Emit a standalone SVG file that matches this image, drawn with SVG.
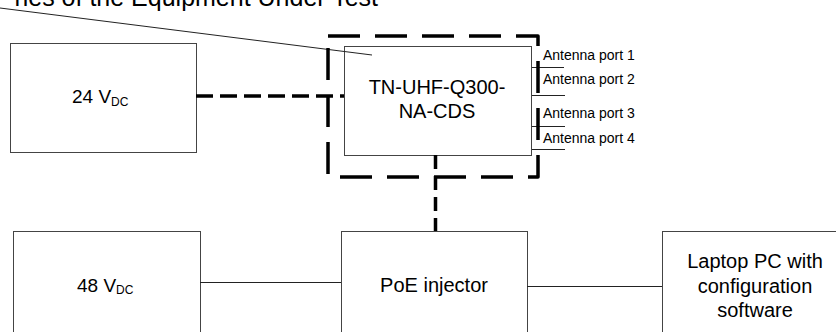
<svg xmlns="http://www.w3.org/2000/svg" width="836" height="332" viewBox="0 0 836 332">
<style>
text{font-family:"Liberation Sans",Arial,sans-serif;fill:#000}
.box{fill:#fff;stroke:#444;stroke-width:1}
.main{font-size:20px;text-anchor:middle}
.sub{font-size:12px}
.port{font-size:14px}
.thin{stroke:#222;stroke-width:1;fill:none}
.dash{stroke:#000;stroke-width:3.5;fill:none;stroke-dasharray:17 7}
.bound{stroke:#000;stroke-width:3.5;fill:none;stroke-dasharray:32 15;stroke-linejoin:round}
</style>
<rect width="836" height="332" fill="#fff"/>
<g id="title">
<text x="378" y="6" font-size="25" text-anchor="end">ries of the Equipment Under Test</text>
</g>
<g id="n24v">
<rect class="box" x="10.5" y="43.5" width="186" height="109"/>
<text x="72" y="103" font-size="19">24 V<tspan class="sub" dy="3">DC</tspan></text>
</g>
<g id="reader">
<rect class="box" x="344.5" y="46.5" width="187" height="109"/>
<text class="main" x="437" y="94">TN-UHF-Q300-</text>
<text class="main" x="437" y="118">NA-CDS</text>
</g>
<g id="ports">
<text class="port" x="543" y="59.5">Antenna port 1</text>
<text class="port" x="543" y="83.5">Antenna port 2</text>
<text class="port" x="543" y="117.5">Antenna port 3</text>
<text class="port" x="543" y="142.5">Antenna port 4</text>
</g>
<g id="n48v">
<rect class="box" x="13.5" y="231.5" width="187" height="120"/>
<text x="77" y="292" font-size="19">48 V<tspan class="sub" dy="2">DC</tspan></text>
</g>
<g id="poe">
<rect class="box" x="341.5" y="231.5" width="186" height="120"/>
<text class="main" x="434" y="292">PoE injector</text>
</g>
<g id="laptop">
<rect class="box" x="662.5" y="231.5" width="190" height="120"/>
<text class="main" x="755" y="268">Laptop PC with</text>
<text class="main" x="755" y="293">configuration</text>
<text class="main" x="755" y="317">software</text>
</g>
<g id="connectors">
<line class="thin" x1="0" y1="8" x2="372" y2="55"/>
<line class="thin" x1="532" y1="67.5" x2="564" y2="67.5"/>
<line class="thin" x1="532" y1="95.5" x2="565" y2="95.5" stroke="#777"/>
<line class="thin" x1="532" y1="126.5" x2="565" y2="126.5"/>
<line class="thin" x1="532" y1="149.5" x2="565" y2="149.5"/>
<line class="thin" x1="200" y1="282.5" x2="341" y2="282.5"/>
<line class="thin" x1="527" y1="286.5" x2="662" y2="286.5"/>
<line class="dash" x1="196" y1="96" x2="344" y2="96"/>
<line class="dash" x1="435.5" y1="155" x2="435.5" y2="231" style="stroke-dasharray:14 7"/>
<rect class="bound" x="328" y="36" width="210" height="141"/>
</g>
</svg>
